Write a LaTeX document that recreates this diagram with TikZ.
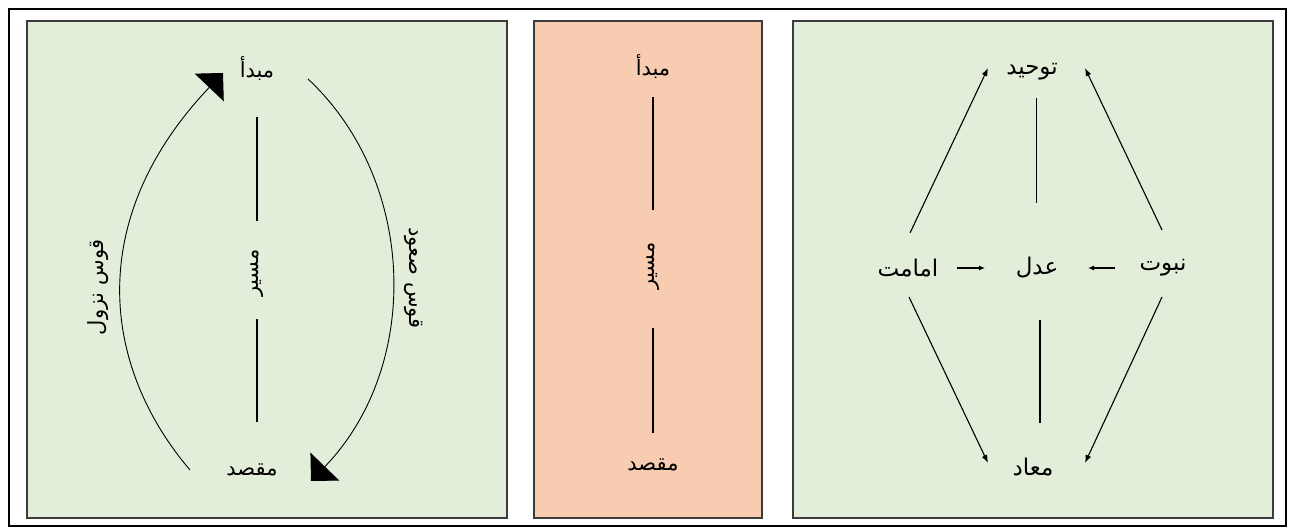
\documentclass[tikz,border=0pt]{standalone}
\usepackage{fontspec}
\newfontfamily\arabicfont[Script=Arabic]{DejaVu Sans}
\TeXXeTstate=1
\newcommand{\fatext}[1]{{\arabicfont\beginR #1\endR}}
\usetikzlibrary{arrows.meta}

\definecolor{panelgreen}{RGB}{226,238,218}
\definecolor{panelpeach}{RGB}{248,204,176}
\definecolor{panelline}{RGB}{60,60,60}

\begin{document}
\begin{tikzpicture}[
  x=1pt, y=-1pt,
  >=Latex,
  panel/.style={draw=panelline, line width=1.8pt},
  word/.style={font=\fontsize{21}{24}\selectfont, inner sep=2pt},
  bigword/.style={font=\fontsize{23}{26}\selectfont, inner sep=2pt},
  bow/.style={line width=0.9pt, -{Triangle[length=20pt,width=40pt]}},
  joinline/.style={line width=1.2pt},
  flow/.style={-{Latex[length=8pt,width=6pt]}, line width=1.1pt},
  shortflow/.style={-{Latex[length=6pt,width=5pt]}, line width=1.1pt},
]
\useasboundingbox (0,0) rectangle (1290,529);
\fill[white] (0,0) rectangle (1290,529);
\draw[line width=2.6pt] (9,9) rectangle (1286,526);
\draw[panel, fill=panelgreen] (27,21) rectangle (507,518);
\draw[panel, fill=panelpeach] (534,21) rectangle (762,518);
\draw[panel, fill=panelgreen] (793,21) rectangle (1273,518);

\node[word] (srcL) at (257,69) {\fatext{مبدأ}};
\node[word] (dstL) at (252,470) {\fatext{مقصد}};
\node[word, rotate=90] (pathL) at (257,273) {\fatext{مسیر}};
\node[word, rotate=90] (descL) at (98,287) {\fatext{قوس نزول}};
\node[word, rotate=-90] (ascL) at (414,278) {\fatext{قوس صعود}};
\coordinate (descStart) at (190,470);
\coordinate (descTip) at (223,73);
\coordinate (ascStart) at (308,79);
\coordinate (ascTip) at (311,481);

\draw[joinline] ([yshift=-48pt]srcL.center) -- ([yshift=52pt]pathL.center);
\draw[joinline] ([yshift=-46pt]pathL.center) -- ([xshift=5pt,yshift=48pt]dstL.center);
\draw[bow] (descStart) .. controls (99,363) and (87,216) .. (descTip);
\draw[bow] (ascStart) .. controls (417,181) and (422,366) .. (ascTip);

\node[word] (srcM) at (653,67) {\fatext{مبدأ}};
\node[word, rotate=90] (pathM) at (653,266) {\fatext{مسیر}};
\node[word] (dstM) at (653,465) {\fatext{مقصد}};
\draw[joinline] ([yshift=-30pt]srcM.center) -- ([yshift=56pt]pathM.center);
\draw[joinline] ([yshift=-62pt]pathM.center) -- ([yshift=32pt]dstM.center);

\node[bigword] (tawhid) at (1032,72) {\fatext{توحید}};
\node[bigword] (adl) at (1037,268) {\fatext{عدل}};
\node[bigword] (imamat) at (908,268) {\fatext{امامت}};
\node[bigword] (nubuwwat) at (1163,268) {\fatext{نبوت}};
\node[bigword] (maad) at (1033,467) {\fatext{معاد}};

\draw[flow] ([xshift=2pt,yshift=35pt]imamat.center) -- ([xshift=-44pt,yshift=4pt]tawhid.center);
\draw[flow] ([xshift=-1pt,yshift=38pt]nubuwwat.center) -- ([xshift=53pt,yshift=4pt]tawhid.center);
\draw[flow] ([xshift=1pt,yshift=-29pt]imamat.center) -- ([xshift=-45pt,yshift=4pt]maad.center);
\draw[flow] ([xshift=-1pt,yshift=-29pt]nubuwwat.center) -- ([xshift=52pt,yshift=4pt]maad.center);
\draw[shortflow] ([xshift=49pt]imamat.center) -- ([xshift=-52pt]adl.center);
\draw[shortflow] ([xshift=-48pt]nubuwwat.center) -- ([xshift=51pt]adl.center);
\draw[line width=1pt] ([xshift=4pt,yshift=-26pt]tawhid.center) -- ([xshift=-1pt,yshift=65pt]adl.center);
\draw[line width=1.6pt] ([xshift=3pt,yshift=-52pt]adl.center) -- ([xshift=7pt,yshift=44pt]maad.center);
\end{tikzpicture}
\end{document}
